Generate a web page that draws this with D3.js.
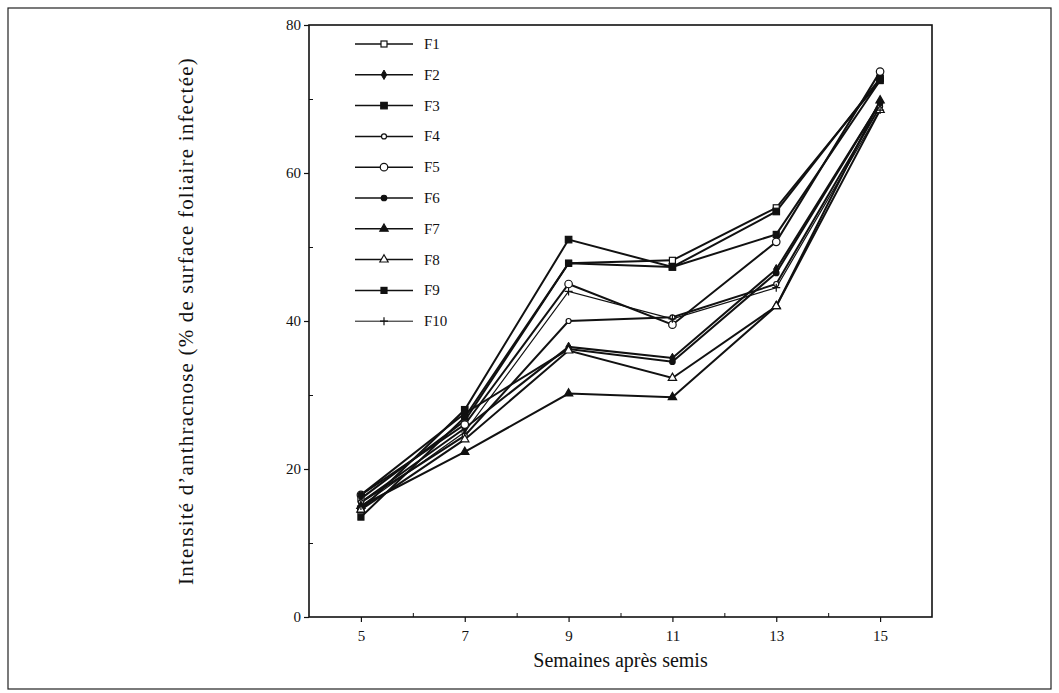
<!DOCTYPE html>
<html>
<head>
<meta charset="utf-8">
<script src="https://cdn.jsdelivr.net/npm/d3@7"></script>
<style>
  body { margin: 0; background: #fff; }
  svg text { font-family: "Liberation Serif", "DejaVu Serif", serif; fill: #111; }
</style>
</head>
<body>
<div id="container"></div>
<script>
// weeks after sowing
const weeks = [5, 7, 9, 11, 13, 15];
const seriesNames = ["F1", "F2", "F3", "F4", "F5", "F6", "F7", "F8", "F9", "F10"];
// values (% leaf area infected)
const F1 = [16.0, 26.5, 47.8, 48.2, 55.3, 72.5];
const F2 = [15.5, 25.5, 36.5, 35.0, 47.0, 69.5];
const F3 = [14.5, 28.0, 51.0, 47.3, 54.8, 72.8];
const F4 = [15.5, 24.5, 40.0, 40.5, 45.0, 69.0];
const F5 = [16.5, 26.0, 45.0, 39.5, 50.7, 73.7];
const F6 = [16.5, 27.5, 36.2, 34.5, 46.5, 69.5];
const F7 = [15.0, 22.3, 30.2, 29.7, 42.0, 69.8];
const F8 = [14.5, 24.0, 36.0, 32.3, 42.0, 68.5];
const F9 = [13.5, 27.0, 47.8, 47.3, 51.7, 72.5];
const F10 = [15.0, 25.0, 44.0, 40.3, 44.5, 68.5];
const seriesValues = [F1, F2, F3, F4, F5, F6, F7, F8, F9, F10];
const yTicks = [0, 20, 40, 60, 80];
const xTicks = [5, 7, 9, 11, 13, 15];

const width = 1059;
const height = 693;
const marginTop = 25;
const marginRight = 127;
const marginBottom = 76;
const marginLeft = 309;

// marker style per series
const markers = [
  {shape: "square", fill: "#fff", size: 5},
  {shape: "diamond", fill: "#111", size: 4},
  {shape: "square", fill: "#111", size: 5.5},
  {shape: "circle", fill: "#fff", size: 4},
  {shape: "circle", fill: "#fff", size: 6.5},
  {shape: "circle", fill: "#111", size: 4.5},
  {shape: "triangle", fill: "#111", size: 5},
  {shape: "triangle", fill: "#fff", size: 5},
  {shape: "square", fill: "#111", size: 5},
  {shape: "plus", fill: "none", size: 4}
];

const x = d3.scaleLinear()
    .domain([4, 16])
    .range([marginLeft, width - marginRight]);

const y = d3.scaleLinear()
    .domain([0, 80])
    .range([height - marginBottom, marginTop]);

const svg = d3.create("svg")
    .attr("width", width)
    .attr("height", height)
    .attr("viewBox", [0, 0, width, height]);

// outer frame of the figure
svg.append("rect")
    .attr("x", 8).attr("y", 8)
    .attr("width", width - 16).attr("height", height - 12)
    .attr("fill", "none").attr("stroke", "#222").attr("stroke-width", 1.2);

// plot box
svg.append("rect")
    .attr("x", marginLeft).attr("y", marginTop)
    .attr("width", width - marginRight - marginLeft)
    .attr("height", height - marginBottom - marginTop)
    .attr("fill", "none").attr("stroke", "#111").attr("stroke-width", 1.6);

// x axis
svg.append("g")
    .attr("transform", `translate(0,${height - marginBottom})`)
    .call(d3.axisBottom(x).tickValues(xTicks).tickSize(5).tickPadding(8).tickFormat(d3.format("d")))
    .call(g => g.select(".domain").remove())
    .call(g => g.selectAll("line").attr("stroke", "#111").attr("stroke-width", 1.2))
    .call(g => g.selectAll("text").attr("font-size", 15).attr("fill", "#111"));

svg.append("g")
    .attr("transform", `translate(0,${height - marginBottom})`)
    .call(d3.axisTop(x).tickValues([6, 8, 10, 12, 14]).tickSize(4).tickFormat(""))
    .call(g => g.select(".domain").remove())
    .call(g => g.selectAll("line").attr("stroke", "#111"));

// y axis
svg.append("g")
    .attr("transform", `translate(${marginLeft},0)`)
    .call(d3.axisLeft(y).tickValues(yTicks).tickSize(5).tickPadding(3).tickFormat(d3.format("d")))
    .call(g => g.select(".domain").remove())
    .call(g => g.selectAll("line").attr("stroke", "#111").attr("stroke-width", 1.2))
    .call(g => g.selectAll("text").attr("font-size", 15).attr("fill", "#111"));

svg.append("g")
    .attr("transform", `translate(${marginLeft},0)`)
    .call(d3.axisRight(y).tickValues([10, 30, 50, 70]).tickSize(4).tickFormat(""))
    .call(g => g.select(".domain").remove())
    .call(g => g.selectAll("line").attr("stroke", "#111"));

// axis titles
svg.append("text")
    .attr("x", (marginLeft + width - marginRight) / 2)
    .attr("y", 667)
    .attr("text-anchor", "middle")
    .attr("font-size", 20)
    .text("Semaines après semis");

svg.append("text")
    .attr("transform", `translate(193,${(marginTop + height - marginBottom) / 2}) rotate(-90)`)
    .attr("text-anchor", "middle")
    .attr("font-size", 21)
    .attr("letter-spacing", 1.2)
    .text("Intensité d’anthracnose (% de surface foliaire infectée)");

function drawMarker(g, m, cx, cy) {
  const s = m.size;
  if (m.shape === "square") {
    g.append("rect").attr("x", cx - s / 2 - 0.5).attr("y", cy - s / 2 - 0.5)
      .attr("width", s + 1).attr("height", s + 1)
      .attr("fill", m.fill).attr("stroke", "#111").attr("stroke-width", 1.2);
  } else if (m.shape === "circle") {
    g.append("circle").attr("cx", cx).attr("cy", cy).attr("r", s / 2 + 0.5)
      .attr("fill", m.fill).attr("stroke", "#111").attr("stroke-width", 1.2);
  } else if (m.shape === "diamond") {
    g.append("path").attr("d", d3.symbol(d3.symbolDiamond, s * s * 1.6)())
      .attr("transform", `translate(${cx},${cy})`)
      .attr("fill", m.fill).attr("stroke", "#111");
  } else if (m.shape === "triangle") {
    g.append("path").attr("d", d3.symbol(d3.symbolTriangle, s * s * 1.2)())
      .attr("transform", `translate(${cx},${cy})`)
      .attr("fill", m.fill).attr("stroke", "#111").attr("stroke-width", 1.2);
  } else if (m.shape === "plus") {
    g.append("path").attr("d", `M${cx - s},${cy}H${cx + s}M${cx},${cy - s}V${cy + s}`)
      .attr("stroke", "#111").attr("stroke-width", 1.2);
  }
}

const line = d3.line()
    .x((d, i) => x(weeks[i]))
    .y(d => y(d));

// series lines and markers
const series = svg.append("g");
seriesValues.forEach((vals, k) => {
  series.append("path")
      .attr("d", line(vals))
      .attr("fill", "none")
      .attr("stroke", "#111")
      .attr("stroke-width", k === 9 ? 1.2 : 2);
});
seriesValues.forEach((vals, k) => {
  const g = series.append("g");
  vals.forEach((v, i) => drawMarker(g, markers[k], x(weeks[i]), y(v)));
});

// legend
const legend = svg.append("g");
seriesNames.forEach((name, k) => {
  const ly = 44 + k * 30.8;
  legend.append("line")
      .attr("x1", 355).attr("x2", 413)
      .attr("y1", ly).attr("y2", ly)
      .attr("stroke", "#111").attr("stroke-width", k === 9 ? 1 : 1.5);
  drawMarker(legend, markers[k], 384, ly);
  legend.append("text")
      .attr("x", 424).attr("y", ly + 5)
      .attr("font-size", 15)
      .text(name);
});

container.append(svg.node());
</script>
</body>
</html>
